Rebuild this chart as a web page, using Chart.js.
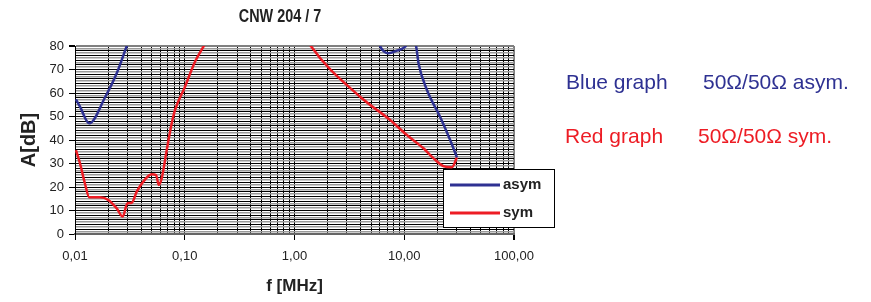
<!DOCTYPE html>
<html>
<head>
<meta charset="utf-8">
<script src="https://cdn.jsdelivr.net/npm/chart.js@4.4.1/dist/chart.umd.min.js"></script>
<style>
  html, body { margin: 0; padding: 0; background: #fff; }
  #wrap { position: relative; width: 871px; height: 302px; }
  canvas { position: absolute; left: 0; top: 0; }
  .note { position: absolute; font-family: "Liberation Sans", Arial, sans-serif; font-size: 21px; white-space: nowrap; line-height: 1; }
  .blue { color: #2e3192; }
  .red { color: #ed1c24; }
</style>
</head>
<body>
<div id="wrap">
  <canvas id="c" width="871" height="302"></canvas>
  <div class="note blue" style="left:566px; top:71px;">Blue graph</div>
  <div class="note blue" style="left:703px; top:71px;">50Ω/50Ω asym.</div>
  <div class="note red" style="left:565px; top:125px;">Red graph</div>
  <div class="note red" style="left:698px; top:125px;">50Ω/50Ω sym.</div>
</div>
<script>
// ---- data ----
const chartTitle = "CNW 204 / 7";
const seriesNames = ["asym", "sym"];
const seriesColors = ["#2e3192", "#ed1c24"];

// frequency in MHz, attenuation in dB (values above 80 leave the visible plot)
const asymFreq = [0.0102, 0.0111, 0.0135, 0.0188, 0.024, 0.0296, 0.04, 5.5, 6.03, 6.6, 7.18, 8.56, 10.2, 11.3, 12.8, 13.5, 16.1, 21.2, 26.2, 30.2];
const asymAtt  = [57.3,   54.2,   47.1,   58.2,   68.4,  80.0,   96,   88,  80.0, 77.5, 76.9, 78.0, 79.7, 83,   80.0, 72.6, 61.3, 49.9, 40.0, 32.6];

const symFreq = [0.0102, 0.0111, 0.0123, 0.0135, 0.0169, 0.0201, 0.024, 0.0272, 0.0300, 0.0329, 0.0365, 0.0419, 0.0500, 0.0548, 0.0580, 0.0617, 0.0685, 0.0761, 0.0816, 0.1006, 0.124, 0.148, 0.18, 1.2, 1.41, 3.96, 7.44, 10.56, 14.96, 18.5, 22.7, 27.2, 30.2];
const symAtt  = [35.7,   30.1,   21.6,   15.6,   15.6,   14.5,   10.9,  7.4,    13.0,   13.3,   18.0,   22.3,   25.4,   25.1,   20.9,   23.7,   35.7,   47.1,   52.8,   62.7,   73.3,  79.7,  86,   86,  80.0, 58.4, 48.5, 42.1,  36.5,  32.2, 28.9, 28.4, 32.6];

const xMin = 0.01, xMax = 100;
const yMin = 0, yMax = 80;
const xDecadeLabels = { "0.01": "0,01", "0.1": "0,10", "1": "1,00", "10": "10,00", "100": "100,00" };
const yLabelStep = 10;
const xTitle = "f [MHz]";
const yTitle = "A[dB]";

// ---- chart ----
const FONT = "'Liberation Sans', Arial, sans-serif";
const toPts = (fs, as) => fs.map((f, i) => ({ x: f, y: as[i] }));
const isDecade = v => Math.abs(Math.log10(v) - Math.round(Math.log10(v))) < 1e-9;

const titlePlugin = {
  id: 'customTitle',
  afterDraw(chart) {
    const ctx = chart.ctx;
    ctx.save();
    ctx.font = "bold 18px " + FONT;
    ctx.fillStyle = "#222";
    ctx.textAlign = "center";
    ctx.textBaseline = "middle";
    ctx.translate(280, 17);
    ctx.scale(0.8, 1);
    ctx.fillText(chartTitle, 0, 0);
    ctx.restore();
  }
};

const legendPlugin = {
  id: 'boxLegend',
  afterDraw(chart) {
    const ctx = chart.ctx;
    const x = 443, y = 169, w = 111, h = 58;
    ctx.save();
    ctx.fillStyle = "#fff";
    ctx.fillRect(x, y, w, h);
    ctx.strokeStyle = "#000";
    ctx.lineWidth = 1;
    ctx.strokeRect(x + 0.5, y + 0.5, w, h);
    chart.data.datasets.forEach((ds, i) => {
      const ly = y + 16 + i * 28;
      ctx.strokeStyle = ds.borderColor;
      ctx.lineWidth = 3;
      ctx.beginPath();
      ctx.moveTo(450, ly);
      ctx.lineTo(500, ly);
      ctx.stroke();
      ctx.fillStyle = "#222";
      ctx.font = "bold 15px " + FONT;
      ctx.textBaseline = "middle";
      ctx.textAlign = "left";
      ctx.fillText(ds.label, 503, ly);
    });
    ctx.restore();
  }
};

new Chart(document.getElementById('c'), {
  type: 'line',
  data: {
    datasets: [
      { label: seriesNames[0], data: toPts(asymFreq, asymAtt), borderColor: seriesColors[0], backgroundColor: seriesColors[0],
        borderWidth: 2.5, pointRadius: 0, cubicInterpolationMode: 'monotone', clip: 0 },
      { label: seriesNames[1], data: toPts(symFreq, symAtt), borderColor: seriesColors[1], backgroundColor: seriesColors[1],
        borderWidth: 2.5, pointRadius: 0, cubicInterpolationMode: 'monotone', clip: 0 }
    ]
  },
  options: {
    responsive: false,
    animation: false,
    devicePixelRatio: 1,
    layout: { padding: { left: 0, top: 46, right: 871 - 514, bottom: 0 } },
    plugins: { legend: { display: false }, title: { display: false }, tooltip: { enabled: false } },
    scales: {
      x: {
        type: 'logarithmic',
        min: xMin, max: xMax,
        afterBuildTicks(scale) {
          const t = [];
          for (let d = -2; d < 2; d++) for (let k = 1; k <= 9; k++) t.push({ value: +(k * Math.pow(10, d)).toPrecision(6) });
          t.push({ value: 100 });
          scale.ticks = t;
        },
        afterFit(scale) { scale.height = 68; },
        ticks: {
          autoSkip: false, maxRotation: 0, padding: 9,
          font: { family: FONT, size: 13 }, color: "#222",
          callback(v) { const key = String(+v.toPrecision(6)); return xDecadeLabels[key] !== undefined ? xDecadeLabels[key] : ''; }
        },
        grid: {
          color: ctx => (ctx.tick && ctx.tick.value === xMax) ? '#808080' : '#000',
          lineWidth: ctx => (ctx.tick && ctx.tick.value === xMax) ? 2 : 1,
          tickLength: 6,
          tickColor: ctx => (ctx.tick && isDecade(ctx.tick.value)) ? '#000' : 'rgba(0,0,0,0)'
        },
        border: { color: '#666', width: 2 },
        title: { display: true, text: xTitle, font: { family: FONT, size: 17, weight: 'bold' }, color: '#222', padding: { top: 0, bottom: 5 } }
      },
      y: {
        min: yMin, max: yMax,
        afterBuildTicks(scale) {
          const t = [];
          for (let v = yMin; v <= yMax; v++) t.push({ value: v });
          scale.ticks = t;
        },
        afterFit(scale) { scale.width = 75; },
        ticks: {
          autoSkip: false, padding: 5,
          font: { family: FONT, size: 13 }, color: "#222",
          callback(v) { return v % yLabelStep === 0 ? String(v) : ''; }
        },
        grid: {
          color: ctx => {
            const v = ctx.tick ? ctx.tick.value : 0;
            if (v === yMax) return '#808080';
            return v % 2 === 0 ? '#000' : '#9a9a9a';
          },
          lineWidth: ctx => {
            const v = ctx.tick ? ctx.tick.value : 0;
            if (v === yMax) return 2;
            return v % 2 === 0 ? 1 : 1.6;
          },
          tickLength: 6,
          tickColor: ctx => (ctx.tick && ctx.tick.value % yLabelStep === 0) ? '#000' : 'rgba(0,0,0,0)'
        },
        border: { color: '#000', width: 1 },
        title: { display: true, text: yTitle, font: { family: FONT, size: 20, weight: 'bold' }, color: '#222', padding: { top: 17, bottom: 0 } }
      }
    }
  },
  plugins: [titlePlugin, legendPlugin]
});
</script>
</body>
</html>
